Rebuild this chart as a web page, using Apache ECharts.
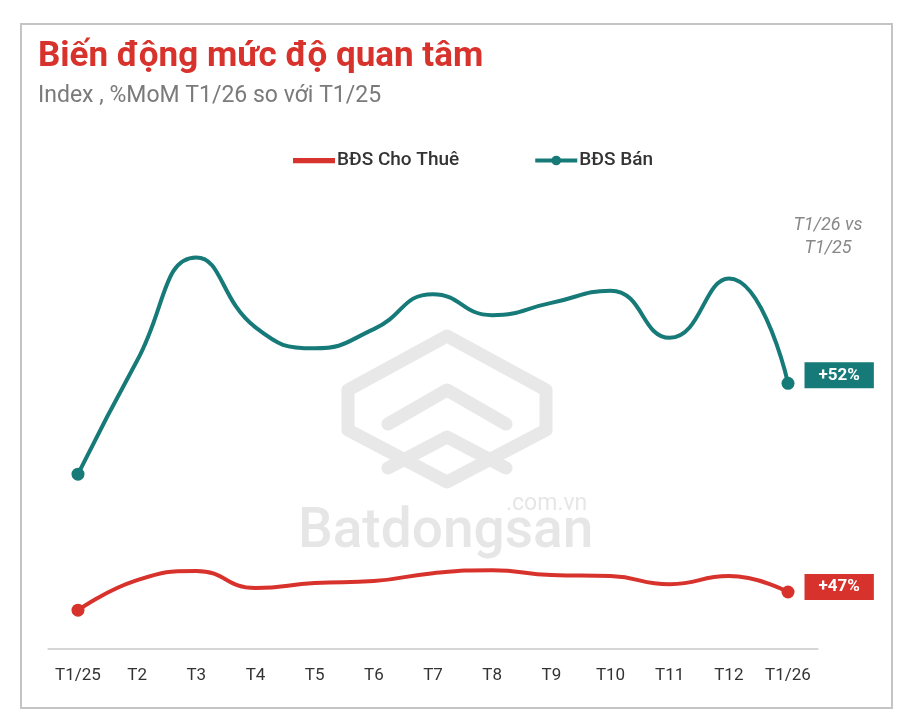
<!DOCTYPE html>
<html>
<head>
<meta charset="utf-8">
<script src="https://cdn.jsdelivr.net/npm/echarts@6/dist/echarts.min.js"></script>
<style>
  html, body { margin: 0; padding: 0; background: #fff; }
  #main { width: 900px; height: 726px; }
</style>
</head>
<body>
<div id="main"></div>
<script>
// du lieu doc tu hinh (index, T1/25 cua BĐS Bán = 100)
var months = ['T1/25', 'T2', 'T3', 'T4', 'T5', 'T6', 'T7', 'T8', 'T9', 'T10', 'T11', 'T12', 'T1/26'];
var banData = [100, 165, 224, 184, 172, 183, 203, 191, 198, 205, 178, 212, 152];
var thueData = [22.2, 39.4, 44.6, 34.9, 37.7, 38.9, 43.4, 45.1, 42.3, 41.7, 37.1, 41.7, 32.6];
var seriesNames = ['BĐS Cho Thuê', 'BĐS Bán'];
var changeLabels = ['+47%', '+52%'];

var red = '#d8322c';
var teal = '#167a78';
var wm = '#e8e8e8';
var last = months.length - 1;

function endSymbol(v, p) {
    return (p.dataIndex === 0 || p.dataIndex === last) ? 13 : 0;
}

// chi diem cuoi co nhan % thay doi
function withLastLabel(arr, color, text, dy) {
    return arr.map(function (v, i) {
        if (i !== last) return v;
        return {
            value: v,
            label: {
                show: true,
                position: 'right',
                distance: 10,
                offset: [0, dy],
                formatter: text,
                color: '#fff',
                fontFamily: 'Roboto',
                fontSize: 17,
                fontWeight: 'bold',
                backgroundColor: color,
                padding: [5, 14, 4, 14]
            }
        };
    });
}

function wmLine(points, closed) {
    return {
        type: closed ? 'polygon' : 'polyline',
        shape: { points: points },
        style: { fill: 'none', stroke: wm, lineWidth: 13, lineJoin: 'round', lineCap: 'round' },
        z: -5
    };
}

var myChart = echarts.init(document.getElementById('main'));
var option = {
    backgroundColor: '#fff',
    animation: false,
    title: {
        text: 'Biến động mức độ quan tâm',
        subtext: 'Index , %MoM T1/26 so với T1/25',
        left: 33,
        top: 35,
        itemGap: 10,
        textStyle: {
            color: red,
            fontFamily: 'Roboto',
            fontSize: 35,
            fontWeight: 'bold'
        },
        subtextStyle: {
            color: '#7a7a7a',
            fontFamily: 'Roboto',
            fontSize: 23
        }
    },
    legend: {
        left: 288,
        top: 146,
        itemWidth: 42,
        itemHeight: 12,
        itemGap: 74,
        lineStyle: { width: 4 },
        textStyle: {
            color: '#333',
            fontFamily: 'Roboto',
            fontSize: 19,
            fontWeight: 500,
            padding: [0, 0, 0, -3]
        },
        data: [
            { name: seriesNames[0], icon: 'path://M0,0L40,0L40,5L0,5Z' },
            { name: seriesNames[1] }
        ]
    },
    grid: {
        left: 48.4,
        right: 82.4,
        top: 212,
        bottom: 77
    },
    xAxis: {
        type: 'category',
        data: months,
        boundaryGap: true,
        axisTick: { show: false },
        axisLine: {
            lineStyle: { color: '#d6d6d6', width: 2 }
        },
        axisLabel: {
            interval: 0,
            color: '#333',
            fontFamily: 'Roboto',
            fontSize: 17,
            margin: 18
        }
    },
    yAxis: {
        type: 'value',
        min: 0,
        max: 250,
        show: false,
        splitLine: { show: false }
    },
    graphic: [
        {
            type: 'rect',
            shape: { x: 21, y: 24, width: 871, height: 684 },
            style: { fill: 'none', stroke: '#c4c4c4', lineWidth: 2 },
            z: -10
        },
        wmLine([[447, 336], [348, 390], [348, 430], [447, 482], [546, 430], [546, 390]], true),
        wmLine([[388, 424], [447, 390], [506, 424]], false),
        wmLine([[388, 468], [447, 437], [506, 468]], false),
        {
            type: 'text',
            left: 298,
            top: 506,
            style: { text: 'Batdongsan', fill: '#e6e6e6', font: '500 55px Roboto' },
            z: -5
        },
        {
            type: 'text',
            left: 506,
            top: 493,
            style: { text: '.com.vn', fill: '#e6e6e6', font: '23px Roboto' },
            z: -5
        },
        {
            type: 'text',
            style: {
                x: 828,
                y: 214,
                text: 'T1/26 vs\nT1/25',
                fill: '#888',
                font: 'italic 18px Roboto',
                align: 'center',
                verticalAlign: 'top',
                lineHeight: 23
            }
        }
    ],
    series: [
        {
            name: seriesNames[0],
            type: 'line',
            data: withLastLabel(thueData, red, changeLabels[0], -5),
            smooth: 0.5,
            symbol: 'circle',
            symbolSize: endSymbol,
            lineStyle: { color: red, width: 4 },
            itemStyle: { color: red }
        },
        {
            name: seriesNames[1],
            type: 'line',
            data: withLastLabel(banData, teal, changeLabels[1], -8),
            smooth: 0.5,
            symbol: 'circle',
            symbolSize: endSymbol,
            lineStyle: { color: teal, width: 4 },
            itemStyle: { color: teal }
        }
    ]
};
myChart.setOption(option);
</script>
</body>
</html>
